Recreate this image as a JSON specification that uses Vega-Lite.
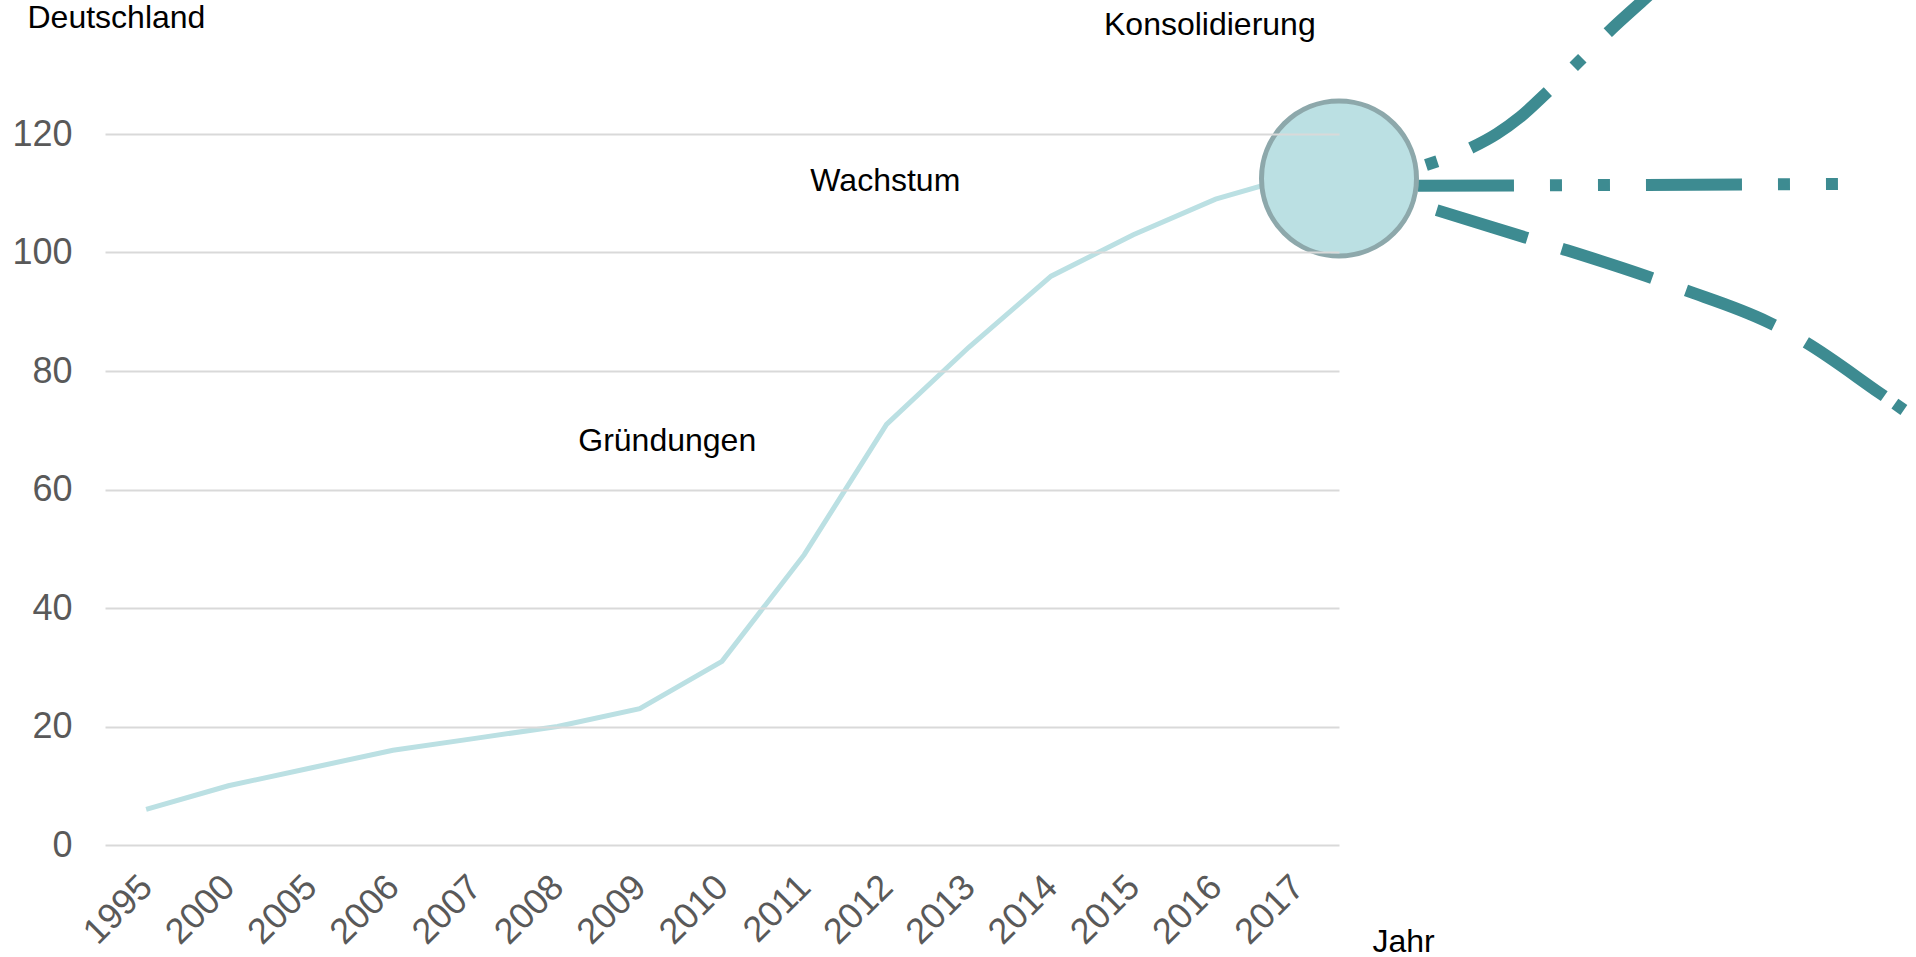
{
  "$schema": "https://vega.github.io/schema/vega-lite/v6.json",
  "width": 1234,
  "height": 711,
  "autosize": {"type": "none"},
  "padding": {"left": 105, "top": 134, "right": 577, "bottom": 112},
  "background": "white",
  "config": {"view": {"stroke": null}, "font": "Liberation Sans"},
  "datasets": {
    "main": [
      {"Jahr": "1995", "Wert": 6},
      {"Jahr": "2000", "Wert": 10},
      {"Jahr": "2005", "Wert": 13},
      {"Jahr": "2006", "Wert": 16},
      {"Jahr": "2007", "Wert": 18},
      {"Jahr": "2008", "Wert": 20},
      {"Jahr": "2009", "Wert": 23},
      {"Jahr": "2010", "Wert": 31},
      {"Jahr": "2011", "Wert": 49},
      {"Jahr": "2012", "Wert": 71},
      {"Jahr": "2013", "Wert": 84},
      {"Jahr": "2014", "Wert": 96},
      {"Jahr": "2015", "Wert": 103},
      {"Jahr": "2016", "Wert": 109},
      {"Jahr": "2017", "Wert": 113}
    ],
    "proj": [
      {"s": "oben", "pos": 15.557, "Wert": 114.77},
      {"s": "oben", "pos": 16.116, "Wert": 117.73},
      {"s": "oben", "pos": 16.42, "Wert": 120.04},
      {"s": "oben", "pos": 16.7, "Wert": 122.84},
      {"s": "oben", "pos": 17.04, "Wert": 127.17},
      {"s": "oben", "pos": 17.417, "Wert": 132.23},
      {"s": "oben", "pos": 17.781, "Wert": 137.29},
      {"s": "oben", "pos": 18.194, "Wert": 142.52},
      {"s": "oben", "pos": 18.608, "Wert": 147.75},
      {"s": "mitte", "pos": 15.46, "Wert": 111.25},
      {"s": "mitte", "pos": 20.565, "Wert": 111.55},
      {"s": "unten", "pos": 15.687, "Wert": 107.15},
      {"s": "unten", "pos": 16.764, "Wert": 102.55},
      {"s": "unten", "pos": 17.186, "Wert": 100.74},
      {"s": "unten", "pos": 18.255, "Wert": 95.92},
      {"s": "unten", "pos": 18.66, "Wert": 93.89},
      {"s": "unten", "pos": 19.722, "Wert": 88.21},
      {"s": "unten", "pos": 20.112, "Wert": 85.34},
      {"s": "unten", "pos": 21.06, "Wert": 76.4},
      {"s": "unten", "pos": 21.42, "Wert": 72.9}
    ],
    "punkt": [{"pos": 14.5, "Wert": 112.5}],
    "labels": [
      {"label": "Konsolidierung", "pos": 12.93, "Wert": 136.73},
      {"label": "Wachstum", "pos": 8.985, "Wert": 110.36},
      {"label": "Gründungen", "pos": 6.334, "Wert": 66.5}
    ]
  },
  "resolve": {"scale": {"x": "independent"}},
  "layer": [
    {
      "data": {"name": "main"},
      "mark": {"type": "line", "color": "#BBE0E3", "strokeWidth": 5},
      "encoding": {
        "x": {
          "field": "Jahr", "type": "ordinal", "sort": null,
          "scale": {"type": "point", "padding": 0.5},
          "axis": {
            "title": "Jahr", "labelAngle": -45, "labelAlign": "right", "labelBaseline": "middle",
            "labelFontSize": 36, "labelColor": "#595959", "labelPadding": 36,
            "ticks": false, "domain": false, "grid": false,
            "titleX": 1267, "titleY": 106, "titleAlign": "left", "titleBaseline": "alphabetic",
            "titleFontSize": 32, "titleFontWeight": "normal", "titleColor": "black"
          }
        },
        "y": {
          "field": "Wert", "type": "quantitative",
          "scale": {"domain": [0, 120], "nice": false},
          "axis": {
            "title": "Deutschland", "titleAngle": 0, "titleX": -78, "titleY": -107,
            "titleAlign": "left", "titleBaseline": "alphabetic", "titleFontSize": 32,
            "titleFontWeight": "normal", "titleColor": "black",
            "values": [0, 20, 40, 60, 80, 100, 120],
            "grid": true, "gridColor": "#D9D9D9", "gridWidth": 2,
            "domain": false, "ticks": false, "labelPadding": 33,
            "labelFontSize": 36, "labelColor": "#595959", "zindex": 1
          }
        }
      }
    },
    {
      "data": {"name": "proj"},
      "transform": [{"filter": "datum.s === 'oben'"}],
      "mark": {"type": "line", "color": "#3D8B91", "strokeWidth": 12, "interpolate": "monotone", "strokeDash": [12, 36, 96, 36], "clip": false},
      "encoding": {
        "x": {"field": "pos", "type": "quantitative", "scale": {"domain": [-0.5, 14.5], "nice": false, "zero": false}, "axis": null},
        "y": {"field": "Wert", "type": "quantitative", "scale": {"domain": [0, 120], "nice": false}}
      }
    },
    {
      "data": {"name": "proj"},
      "transform": [{"filter": "datum.s === 'mitte'"}],
      "mark": {"type": "line", "color": "#3D8B91", "strokeWidth": 12, "strokeDash": [96, 36, 12, 36, 12, 36], "clip": false},
      "encoding": {
        "x": {"field": "pos", "type": "quantitative", "scale": {"domain": [-0.5, 14.5], "nice": false, "zero": false}, "axis": null},
        "y": {"field": "Wert", "type": "quantitative", "scale": {"domain": [0, 120], "nice": false}}
      }
    },
    {
      "data": {"name": "proj"},
      "transform": [{"filter": "datum.s === 'unten'"}],
      "mark": {"type": "line", "color": "#3D8B91", "strokeWidth": 12, "interpolate": "monotone", "strokeDash": [95, 36, 95, 36, 95, 36, 95, 13, 11, 300], "clip": false},
      "encoding": {
        "x": {"field": "pos", "type": "quantitative", "scale": {"domain": [-0.5, 14.5], "nice": false, "zero": false}, "axis": null},
        "y": {"field": "Wert", "type": "quantitative", "scale": {"domain": [0, 120], "nice": false}}
      }
    },
    {
      "data": {"name": "punkt"},
      "mark": {"type": "circle", "size": 24025, "color": "#BBE0E3", "opacity": 1, "stroke": "#8DA8AB", "strokeWidth": 5, "clip": false},
      "encoding": {
        "x": {"field": "pos", "type": "quantitative", "scale": {"domain": [-0.5, 14.5], "nice": false, "zero": false}, "axis": null},
        "y": {"field": "Wert", "type": "quantitative", "scale": {"domain": [0, 120], "nice": false}}
      }
    },
    {
      "data": {"name": "labels"},
      "mark": {"type": "text", "fontSize": 32, "align": "center", "baseline": "alphabetic", "color": "black", "clip": false},
      "encoding": {
        "x": {"field": "pos", "type": "quantitative", "scale": {"domain": [-0.5, 14.5], "nice": false, "zero": false}, "axis": null},
        "y": {"field": "Wert", "type": "quantitative", "scale": {"domain": [0, 120], "nice": false}},
        "text": {"field": "label", "type": "nominal"}
      }
    }
  ]
}
